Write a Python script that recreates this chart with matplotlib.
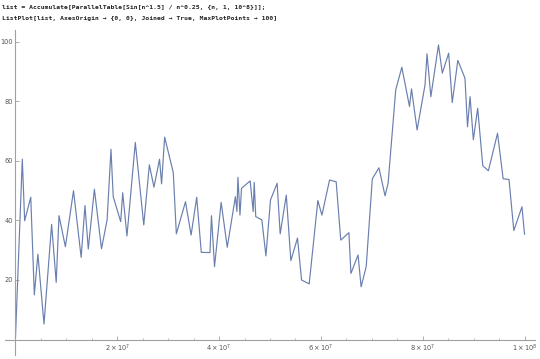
import numpy as np
import matplotlib
matplotlib.use("Agg")
import matplotlib.pyplot as plt

# figure settings
plt.rcParams['figure.dpi'] = 100
plt.rcParams['font.family'] = ['DejaVu Sans']

# data (x in units of 10^7)
x_e7 = [0.0, 0.134, 0.18, 0.30, 0.37, 0.44, 0.56, 0.71, 0.80, 0.855,
        0.98, 1.14, 1.29, 1.365, 1.43, 1.55, 1.69, 1.80, 1.876, 1.92,
        2.067, 2.106, 2.19, 2.354, 2.52, 2.63, 2.72, 2.83, 2.87, 2.93,
        3.10, 3.16, 3.34, 3.45, 3.56, 3.65, 3.82, 3.85, 3.91, 4.04,
        4.16, 4.32, 4.35, 4.37, 4.41, 4.44, 4.61, 4.67, 4.69, 4.72,
        4.84, 4.92, 5.01, 5.14, 5.20, 5.32, 5.41, 5.54, 5.62, 5.77,
        5.94, 6.02, 6.17, 6.30, 6.39, 6.55, 6.59, 6.73, 6.79, 6.89,
        7.01, 7.14, 7.26, 7.32, 7.47, 7.59, 7.74, 7.78, 7.89, 8.045,
        8.085, 8.16, 8.31, 8.385, 8.51, 8.58, 8.69, 8.83, 8.88, 8.93,
        8.995, 9.08, 9.18, 9.29, 9.47, 9.58, 9.695, 9.79, 9.95, 10.0]
y_vals = [0.84, 60.6, 39.9, 47.8, 15.0, 28.7, 5.2, 38.7, 19.2, 41.6,
          31.2, 50.0, 27.6, 45.0, 30.4, 50.5, 30.5, 40.2, 63.9, 48.0,
          39.6, 49.3, 34.8, 66.2, 38.5, 58.7, 51.2, 60.6, 52.3, 68.0,
          56.1, 35.5, 46.3, 35.1, 47.8, 29.3, 29.2, 41.6, 24.5, 46.1,
          31.0, 48.0, 43.0, 54.5, 41.8, 50.8, 53.3, 43.0, 52.8, 41.3,
          40.2, 28.1, 46.9, 52.5, 35.5, 48.5, 26.5, 34.1, 20.0, 18.7,
          46.7, 41.8, 53.6, 53.0, 33.4, 35.9, 22.2, 28.4, 17.7, 24.5,
          54.0, 57.7, 48.3, 52.5, 83.9, 91.5, 78.3, 84.2, 70.4, 85.5,
          96.0, 81.6, 99.0, 89.5, 96.2, 79.6, 93.8, 87.8, 71.5, 81.6,
          67.1, 77.7, 58.4, 56.7, 69.3, 54.0, 53.8, 36.6, 44.6, 35.4]

x_ticks = [2e7, 4e7, 6e7, 8e7, 1e8]
x_tick_labels = [r'$2\times10^{7}$', r'$4\times10^{7}$', r'$6\times10^{7}$',
                 r'$8\times10^{7}$', r'$1\times10^{8}$']
y_ticks = [20, 40, 60, 80, 100]

code_lines = ["list = Accumulate[ParallelTable[Sin[n^1.5] / n^0.25, {n, 1, 10^8}]];",
              "ListPlot[list, AxesOrigin \u2192 {0, 0}, Joined \u2192 True, MaxPlotPoints \u2192 100]"]

W, H = 540, 359
fig = plt.figure(figsize=(W / 100, H / 100))
fig.patch.set_facecolor('white')

# code cell text at the top
fig.text(2 / W, 1 - 7.5 / H, code_lines[0], family='DejaVu Sans Mono',
         weight='bold', fontsize=4.6, color='#222222', va='center')
fig.text(2 / W, 1 - 18.5 / H, code_lines[1], family='DejaVu Sans Mono',
         weight='bold', fontsize=4.6, color='#222222', va='center')

# axes box in pixels: left 5, right 535, top 30, bottom 355
ax = fig.add_axes([5 / W, (H - 355) / H, 530 / W, 325 / H])
ax.set_facecolor('white')

x = np.array(x_e7) * 1e7
ax.plot(x, y_vals, color='#6a7fae', lw=0.85)

ax.set_xlim(-0.206e7, 10.206e7)
ax.set_ylim(-5.2, 104.0)

axis_col = '#a0a0a0'
for side in ['top', 'right']:
    ax.spines[side].set_visible(False)
for side in ['left', 'bottom']:
    ax.spines[side].set_position(('data', 0))
    ax.spines[side].set_color(axis_col)
    ax.spines[side].set_linewidth(0.8)

ax.set_xticks(x_ticks)
ax.set_xticklabels(x_tick_labels)
ax.set_xticks(np.arange(0.5e7, 10.1e7, 0.5e7), minor=True)
ax.set_yticks(y_ticks)
ax.set_yticklabels([str(v) for v in y_ticks])

ax.tick_params(axis='both', which='major', direction='in', length=3,
               width=0.6, color=axis_col, labelsize=4.8, labelcolor='#555555', pad=2)
ax.tick_params(axis='both', which='minor', direction='in', length=1.6,
               width=0.5, color=axis_col)

fig.savefig('out.png', dpi=100, facecolor='white')
